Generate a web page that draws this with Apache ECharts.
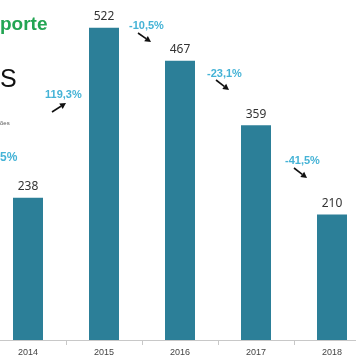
<!DOCTYPE html>
<html><head><meta charset="utf-8">
<script src="https://cdn.jsdelivr.net/npm/echarts@6/dist/echarts.min.js"></script>
<style>html,body{margin:0;padding:0;background:#fff}#c{width:356px;height:364px}</style>
</head><body><div id="c"></div>
<script>
var years = ['2014','2015','2016','2017','2018'];
var values = [238, 522, 467, 359, 210];
var changes = ['119,3%', '-10,5%', '-23,1%', '-41,5%'];

var chart = echarts.init(document.getElementById('c'));
var FONT = '"Liberation Sans", "Noto Sans", sans-serif';
var blue = '#45b3d6';

function arrow(x1,y1,x2,y2){
  var a = Math.atan2(y2-y1,x2-x1), L=6, W=3.2;
  var bx = x2 - L*Math.cos(a), by = y2 - L*Math.sin(a);
  var px = -Math.sin(a)*W, py = Math.cos(a)*W;
  return [
    {type:'line', shape:{x1:x1,y1:y1,x2:bx,y2:by}, style:{stroke:'#111',lineWidth:1.6}},
    {type:'polygon', shape:{points:[[x2,y2],[bx+px,by+py],[bx-px,by-py]]}, style:{fill:'#111'}}
  ];
}

var graphics = [
  {type:'text', left:0, top:15, style:{text:'porte', font:'bold 19px '+FONT, fill:'#23a553'}},
  {type:'text', left:0, top:68, style:{text:'S', font:'25px '+FONT, fill:'#111'}},
  {type:'text', left:0, top:120, style:{text:'ões', font:'6px '+FONT, fill:'#555'}},
  {type:'text', left:0, top:152, style:{text:'5%', font:'bold 12px '+FONT, fill:blue}},
  {type:'text', left:45, top:89, style:{text:changes[0], font:'bold 11px '+FONT, fill:blue}},
  {type:'text', left:129, top:20, style:{text:changes[1], font:'bold 11px '+FONT, fill:blue}},
  {type:'text', left:207, top:68, style:{text:changes[2], font:'bold 11px '+FONT, fill:blue}},
  {type:'text', left:285, top:155, style:{text:changes[3], font:'bold 11px '+FONT, fill:blue}}
].concat(arrow(52,112,66,103), arrow(138,33,151,42), arrow(216,80,229,90), arrow(294,168,307,178));

chart.setOption({
  animation:false,
  grid:{left:-10, width:380, top:5, bottom:24, outerBoundsMode:'none', containLabel:false},
  xAxis:{type:'category', data:years,
    axisLine:{lineStyle:{color:'#c8c8c8'}},
    axisTick:{show:true, lineStyle:{color:'#c8c8c8'}},
    axisLabel:{color:'#444', fontSize:9, fontFamily:FONT, margin:8}},
  yAxis:{type:'value', min:0, max:560, show:false, splitLine:{show:false}},
  series:[{type:'bar', data:values, barWidth:30,
    itemStyle:{color:'#2c7f98'},
    label:{show:true, position:'top', distance:5, color:'#333', fontSize:12, fontFamily:'"Noto Sans", sans-serif'}}],
  graphic:graphics
});
</script></body></html>
